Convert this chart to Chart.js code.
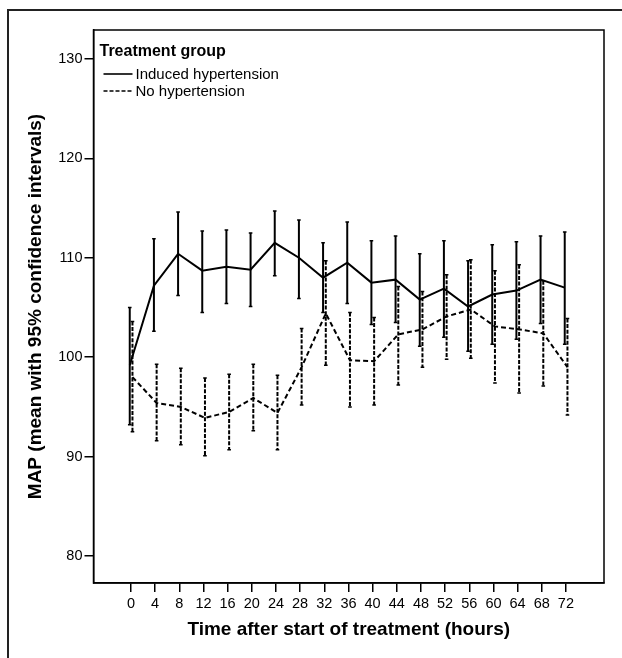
<!DOCTYPE html>
<html>
<head>
<meta charset="utf-8">
<script src="https://cdn.jsdelivr.net/npm/chart.js@4"></script>
<style>
  html, body { margin: 0; padding: 0; background: #fff; }
  #wrap { width: 622px; height: 658px; }
</style>
</head>
<body>
<div id="wrap"><canvas id="mapChart" width="622" height="658"></canvas></div>
<script>
// dados
const hours = [0, 4, 8, 12, 16, 20, 24, 28, 32, 36, 40, 44, 48, 52, 56, 60, 64, 68, 72];
const inducedMean  = [99.2, 107.2, 110.4, 108.7, 109.1, 108.8, 111.5, 110.0, 108.0, 109.5, 107.5, 107.8, 105.8, 106.9, 105.1, 106.3, 106.7, 107.8, 107.0];
const inducedLower = [93.2, 102.6, 106.2, 104.5, 105.4, 105.1, 108.2, 105.9, 104.5, 105.4, 103.3, 103.5, 101.1, 102.0, 100.6, 101.3, 101.8, 103.4, 101.3];
const inducedUpper = [105.0, 111.9, 114.6, 112.7, 112.8, 112.5, 114.7, 113.8, 111.5, 113.6, 111.7, 112.2, 110.4, 111.7, 109.7, 111.3, 111.6, 112.2, 112.6];
const noneMean  = [98.0, 95.4, 95.0, 93.9, 94.5, 95.9, 94.4, 99.0, 104.4, 99.7, 99.6, 102.3, 102.8, 104.1, 104.8, 103.1, 102.8, 102.4, 99.0];
const noneLower = [92.5, 91.6, 91.2, 90.1, 90.7, 92.6, 90.7, 95.2, 99.2, 95.0, 95.2, 97.2, 99.0, 99.8, 99.9, 97.4, 96.4, 97.1, 94.2];
const noneUpper = [103.6, 99.3, 98.9, 97.9, 98.3, 99.3, 98.2, 102.9, 109.7, 104.5, 104.0, 107.1, 106.6, 108.3, 109.8, 108.7, 109.3, 107.7, 103.9];
const yTicks = [80, 90, 100, 110, 120, 130];
const xTicks = hours;
const seriesNames = ['Induced hypertension', 'No hypertension'];
const legendTitle = 'Treatment group';

const FONT = '"Liberation Sans", Arial, Helvetica, sans-serif';

function pontos(means, lower, upper, dodge) {
  return hours.map((h, i) => ({ x: h + dodge, y: means[i], lo: lower[i], hi: upper[i] }));
}

// barras de erro (IC 95%)
const errorBars = {
  id: 'errorBars',
  afterDatasetsDraw(chart) {
    const ctx = chart.ctx;
    const xs = chart.scales.x, ys = chart.scales.y;
    chart.data.datasets.forEach(ds => {
      ctx.save();
      ctx.strokeStyle = '#000';
      ctx.lineWidth = 2;
      ds.data.forEach(p => {
        const x = xs.getPixelForValue(p.x);
        const y1 = ys.getPixelForValue(p.hi);
        const y2 = ys.getPixelForValue(p.lo);
        ctx.setLineDash(ds.barDash || []);
        ctx.beginPath();
        ctx.moveTo(x, y1); ctx.lineTo(x, y2);
        ctx.stroke();
        ctx.setLineDash([]);
        ctx.lineWidth = 1.5;
        ctx.beginPath();
        ctx.moveTo(x - 1.8, y1); ctx.lineTo(x + 1.8, y1);
        ctx.moveTo(x - 1.8, y2); ctx.lineTo(x + 1.8, y2);
        ctx.stroke();
        ctx.lineWidth = 2;
      });
      ctx.restore();
    });
  }
};

// moldura, caixa do gráfico e legenda
const frameAndLegend = {
  id: 'frameAndLegend',
  afterDraw(chart) {
    const ctx = chart.ctx;
    const a = chart.chartArea;
    ctx.save();
    ctx.strokeStyle = '#222';
    ctx.lineWidth = 2;
    ctx.strokeRect(8, 10, 700, 700);
    ctx.strokeStyle = '#000';
    ctx.lineWidth = 1.5;
    ctx.strokeRect(a.left, a.top, a.right - a.left, a.bottom - a.top);

    ctx.fillStyle = '#000';
    ctx.textBaseline = 'middle';
    ctx.textAlign = 'left';
    ctx.font = 'bold 16px ' + FONT;
    ctx.fillText(legendTitle, a.left + 6, 52);
    ctx.font = '15px ' + FONT;
    const rows = [74, 91];
    chart.data.datasets.forEach((ds, i) => {
      ctx.lineWidth = 1.6;
      ctx.setLineDash(ds.legendDash || []);
      ctx.beginPath();
      ctx.moveTo(a.left + 10, rows[i]);
      ctx.lineTo(a.left + 39, rows[i]);
      ctx.stroke();
      ctx.setLineDash([]);
      ctx.fillText(ds.label, a.left + 42, rows[i] + 0.5);
    });
    ctx.restore();
  }
};

const ctx = document.getElementById('mapChart').getContext('2d');
new Chart(ctx, {
  type: 'line',
  data: {
    datasets: [
      {
        label: seriesNames[0],
        data: pontos(inducedMean, inducedLower, inducedUpper, -0.2),
        borderColor: '#000',
        borderWidth: 2,
        pointRadius: 0,
        tension: 0,
        barDash: [],
        legendDash: []
      },
      {
        label: seriesNames[1],
        data: pontos(noneMean, noneLower, noneUpper, 0.25),
        borderColor: '#000',
        borderWidth: 2,
        borderDash: [5, 3],
        pointRadius: 0,
        tension: 0,
        barDash: [4, 1.6],
        legendDash: [4, 2]
      }
    ]
  },
  options: {
    responsive: false,
    animation: false,
    layout: { padding: { left: 0, right: 18, top: 30, bottom: 0 } },
    plugins: {
      legend: { display: false },
      tooltip: { enabled: false }
    },
    scales: {
      x: {
        type: 'linear',
        min: -6.2,
        max: 78.3,
        afterBuildTicks: s => { s.ticks = xTicks.map(v => ({ value: v })); },
        afterFit: s => { s.height = 75; },
        grid: { drawOnChartArea: false, drawTicks: true, tickLength: 9, color: '#000', lineWidth: 1.5 },
        border: { display: true, color: '#000', width: 1.5 },
        ticks: { color: '#000', padding: 3, maxRotation: 0, autoSkip: false, font: { family: FONT, size: 14.5 } },
        title: {
          display: true,
          text: 'Time after start of treatment (hours)',
          color: '#000',
          font: { family: FONT, size: 19, weight: 'bold' },
          padding: { top: 0, bottom: 17 }
        }
      },
      y: {
        min: 77.3,
        max: 132.9,
        afterBuildTicks: s => { s.ticks = yTicks.map(v => ({ value: v })); },
        afterFit: s => { s.width = 93.5; },
        grid: { drawOnChartArea: false, drawTicks: true, tickLength: 9, color: '#000', lineWidth: 1.5 },
        border: { display: true, color: '#000', width: 1.5 },
        ticks: { color: '#000', padding: 2, font: { family: FONT, size: 14.5 } },
        title: {
          display: true,
          text: 'MAP (mean with 95% confidence intervals)',
          color: '#000',
          font: { family: FONT, size: 19, weight: 'bold' },
          padding: { top: 24, bottom: 0 }
        }
      }
    }
  },
  plugins: [errorBars, frameAndLegend]
});
</script>
</body>
</html>
